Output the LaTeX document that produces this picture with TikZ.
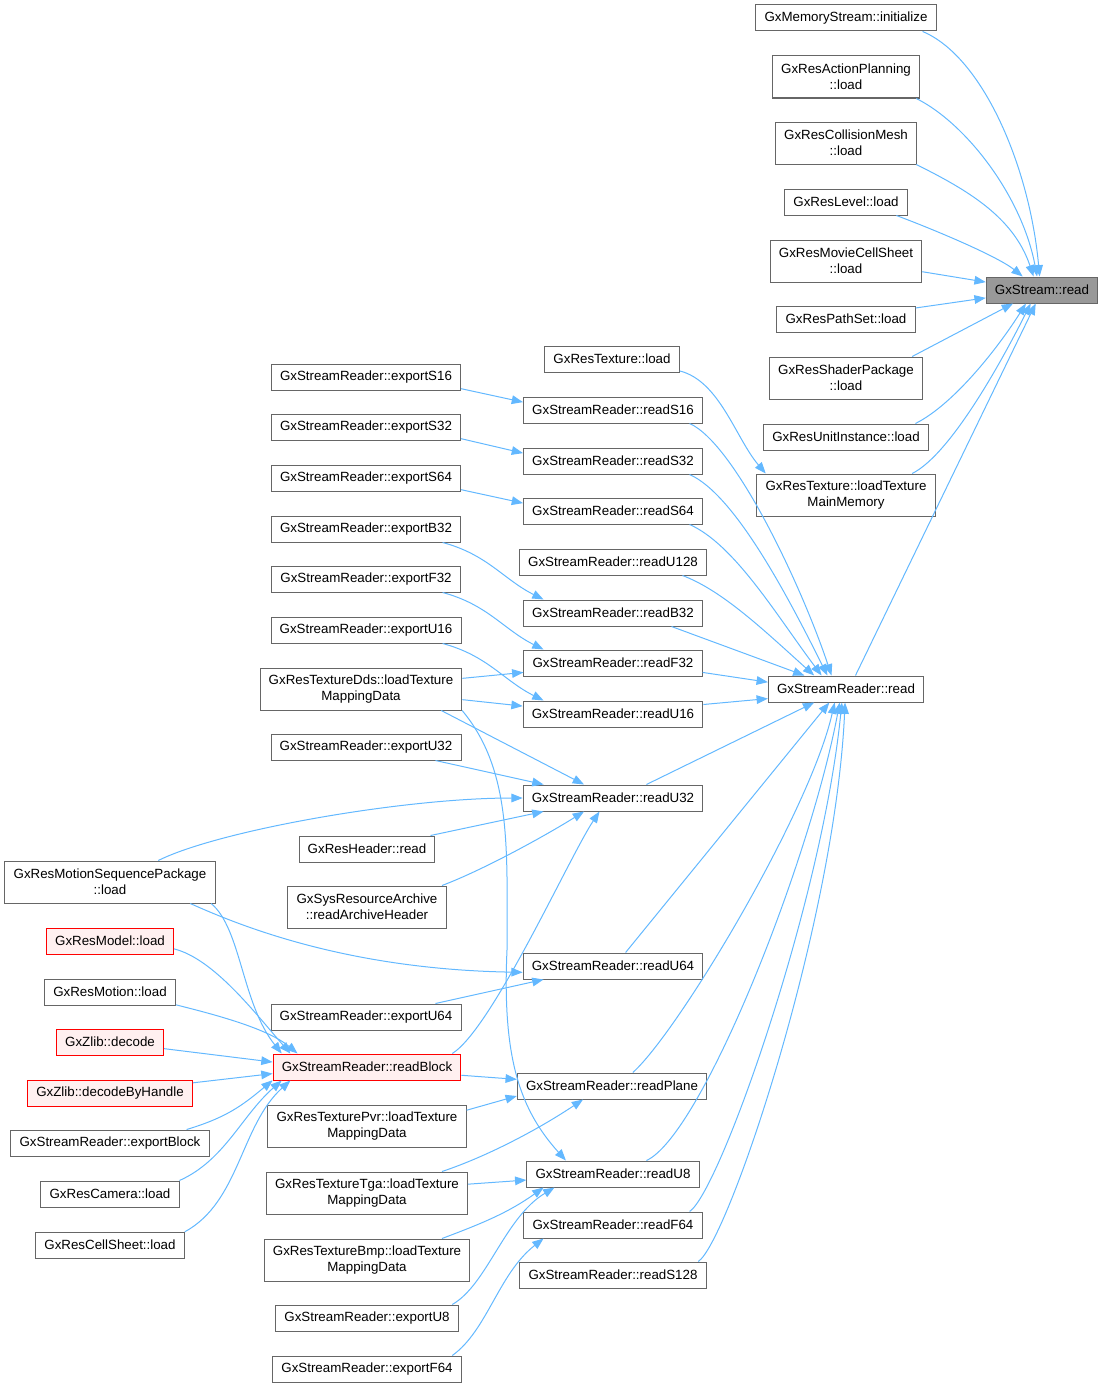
\documentclass[tikz,border=0pt]{standalone}
\usepackage{fontspec}
\setmainfont{Liberation Sans}
\usetikzlibrary{arrows.meta}
\definecolor{edgeblue}{HTML}{63B8FF}
\definecolor{boxgray}{HTML}{666666}
\definecolor{fillgray}{HTML}{999999}
\definecolor{fillred}{HTML}{FFF0F0}
\begin{document}
\begin{tikzpicture}[x=0.75pt,y=-0.75pt,
    fn/.style={draw=boxgray,fill=white,line width=0.75pt,inner xsep=6.5pt,inner ysep=2pt,
      minimum height=19.5pt,align=center,font=\fontsize{10}{12}\selectfont},
    fn2/.style={fn,minimum height=31.5pt},
    cur/.style={fn,fill=fillgray},
    trunc/.style={fn,draw=red,fill=fillred},
    call/.style={draw=edgeblue,line width=0.75pt,-{Triangle[length=8.5pt,width=6.5pt]}}]
  \useasboundingbox (0,0) rectangle (1104,1388);
  % right column
  \draw
    (1042,290) node[cur] (sread){GxStream::read}
    (846,18) node[fn] (mstream){GxMemoryStream::initialize}
    (846,77) node[fn2] (actplan){GxResActionPlanning\\::load}
    (846,143) node[fn2] (collmesh){GxResCollisionMesh\\::load}
    (846,202) node[fn] (level){GxResLevel::load}
    (846,261) node[fn2] (moviecell){GxResMovieCellSheet\\::load}
    (846,319) node[fn] (pathset){GxResPathSet::load}
    (846,378) node[fn2] (shader){GxResShaderPackage\\::load}
    (846,437) node[fn] (unitinst){GxResUnitInstance::load}
    (846,495) node[fn2] (texmain){GxResTexture::loadTexture\\MainMemory}
    (846,689) node[fn] (rread){GxStreamReader::read};
  % reader column
  \draw
    (612,359) node[fn] (texload){GxResTexture::load}
    (613,410) node[fn] (rS16){GxStreamReader::readS16}
    (613,461) node[fn] (rS32){GxStreamReader::readS32}
    (613,511) node[fn] (rS64){GxStreamReader::readS64}
    (613,562) node[fn] (rU128){GxStreamReader::readU128}
    (613,613) node[fn] (rB32){GxStreamReader::readB32}
    (613,663) node[fn] (rF32){GxStreamReader::readF32}
    (613,714) node[fn] (rU16){GxStreamReader::readU16}
    (613,798) node[fn] (rU32){GxStreamReader::readU32}
    (613,966) node[fn] (rU64){GxStreamReader::readU64}
    (612,1086) node[fn] (rPlane){GxStreamReader::readPlane}
    (613,1174) node[fn] (rU8){GxStreamReader::readU8}
    (613,1225) node[fn] (rF64){GxStreamReader::readF64}
    (613,1275) node[fn] (rS128){GxStreamReader::readS128};
  % export column
  \draw
    (366,377) node[fn] (exS16){GxStreamReader::exportS16}
    (366,427) node[fn] (exS32){GxStreamReader::exportS32}
    (366,478) node[fn] (exS64){GxStreamReader::exportS64}
    (366,529) node[fn] (exB32){GxStreamReader::exportB32}
    (366,579) node[fn] (exF32){GxStreamReader::exportF32}
    (366,630) node[fn] (exU16){GxStreamReader::exportU16}
    (361,689) node[fn2] (dds){GxResTextureDds::loadTexture\\MappingData}
    (366,747) node[fn] (exU32){GxStreamReader::exportU32}
    (367,849) node[fn] (resheader){GxResHeader::read}
    (367,907) node[fn2] (sysarch){GxSysResourceArchive\\::readArchiveHeader}
    (366,1017) node[fn] (exU64){GxStreamReader::exportU64}
    (367,1067) node[trunc] (rblock){GxStreamReader::readBlock}
    (367,1126) node[fn2] (pvr){GxResTexturePvr::loadTexture\\MappingData}
    (367,1193) node[fn2] (tga){GxResTextureTga::loadTexture\\MappingData}
    (367,1260) node[fn2] (bmp){GxResTextureBmp::loadTexture\\MappingData}
    (367,1318) node[fn] (exU8){GxStreamReader::exportU8}
    (367,1369) node[fn] (exF64){GxStreamReader::exportF64};
  % left column
  \draw
    (110,882) node[fn2] (motionseq){GxResMotionSequencePackage\\::load}
    (110,941) node[trunc] (resmodel){GxResModel::load}
    (110,992) node[fn] (resmotion){GxResMotion::load}
    (110,1042) node[trunc] (decode){GxZlib::decode}
    (110,1093) node[trunc] (decodeh){GxZlib::decodeByHandle}
    (110,1143) node[fn] (exblock){GxStreamReader::exportBlock}
    (110,1194) node[fn] (camera){GxResCamera::load}
    (110,1245) node[fn] (cellsheet){GxResCellSheet::load};
  \begin{scope}[call]
    \draw (mstream.-10) .. controls +(60,25) and +(-10,-110) .. (sread.100);
    \draw (actplan.-17) .. controls +(50,25) and +(-15,-80) .. (sread.110);
    \draw (collmesh.-17) .. controls +(50,25) and +(-20,-60) .. (sread.122);
    \draw (level.-15) .. controls +(40,15) and +(-25,-20) .. (sread.145);
    \draw (moviecell.-8) to (sread.172);
    \draw (pathset.9) to (sread.-172);
    \draw (shader.18) to (sread.-155);
    \draw (unitinst.11) .. controls +(40,-20) and +(-25,40) .. (sread.-140);
    \draw (texmain.18) .. controls +(40,-20) and +(-25,50) .. (sread.-130);
    \draw (rread.55) to (sread.-115);
    \draw (texload.-10) .. controls +(40,10) and +(-30,-35) .. (texmain.165);
    \draw (exS16.-7) to (rS16.175);
    \draw (exS32.-7) to (rS32.175);
    \draw (exS64.-7) to (rS64.175);
    \draw (exB32.-10) .. controls +(45,12) and +(-40,-20) .. (rB32.169);
    \draw (exF32.-10) .. controls +(45,12) and +(-40,-20) .. (rF32.169);
    \draw (exU16.-10) .. controls +(45,12) and +(-40,-20) .. (rU16.169);
    \draw (dds.6) to (rF32.-174);
    \draw (dds.-6) to (rU16.175);
    \draw (dds.-15) to (rU32.155);
    \draw (dds.-12) .. controls +(50,60) and +(0,-100) .. (507,950)
      .. controls +(-5,110) and +(-45,-50) .. (rU8.164);
    \draw (rS16.-10) .. controls +(45,20) and +(-30,-90) .. (rread.137);
    \draw (rS32.-10) .. controls +(45,20) and +(-40,-80) .. (rread.144);
    \draw (rS64.-10) .. controls +(45,20) and +(-45,-60) .. (rread.151);
    \draw (rU128.-11) .. controls +(40,15) and +(-50,-45) .. (rread.157);
    \draw (rB32.-13) to (rread.162);
    \draw (rF32.-6) to (rread.175);
    \draw (rU16.6) to (rread.-173);
    \draw (rU32.22) to (rread.-157);
    \draw (rU64.47) to (rread.-141);
    \draw (rPlane.33) .. controls +(45,-40) and +(-25,110) .. (rread.-130);
    \draw (rU8.22) .. controls +(55,-25) and +(-30,160) .. (rread.-115);
    \draw (rF64.10) .. controls +(30,-20) and +(-20,200) .. (rread.-107);
    \draw (rS128.9) .. controls +(30,-20) and +(-10,220) .. (rread.-94);
    \draw (exU32.-11) to (rU32.169);
    \draw (motionseq.24) .. controls +(60,-30) and +(-120,0) .. (rU32.180);
    \draw (resheader.12) to (rU32.-169);
    \draw (sysarch.16) .. controls +(40,-15) and +(-40,25) .. (rU32.-155);
    \draw (rblock.9) .. controls +(40,-25) and +(-30,45) .. (rU32.-135);
    \draw (motionseq.-15) .. controls +(45,20) and +(-180,-3) .. (rU64.-176);
    \draw (exU64.11) to (rU64.-169);
    \draw (motionseq.-12) .. controls +(30,25) and +(-40,-50) .. (rblock.171);
    \draw (resmodel.-7) .. controls +(40,10) and +(-35,-40) .. (rblock.170);
    \draw (resmotion.-11) .. controls +(40,10) and +(-30,-25) .. (rblock.169);
    \draw (decode.-7) to (rblock.177);
    \draw (decodeh.7) to (rblock.-176);
    \draw (exblock.10) .. controls +(40,-12) and +(-30,25) .. (rblock.-172);
    \draw (camera.11) .. controls +(45,-20) and +(-40,35) .. (rblock.-171);
    \draw (cellsheet.10) .. controls +(55,-30) and +(-50,45) .. (rblock.-170);
    \draw (rblock.-5) to (rPlane.176);
    \draw (pvr.9) to (rPlane.-174);
    \draw (tga.16) .. controls +(45,-15) and +(-45,30) .. (rPlane.-155);
    \draw (tga.5) to (rU8.-176);
    \draw (bmp.16) .. controls +(40,-15) and +(-35,25) .. (rU8.-169);
    \draw (exU8.9) .. controls +(35,-20) and +(-50,30) .. (rU8.-167);
    \draw (exF64.9) .. controls +(35,-25) and +(-45,35) .. (rF64.-169);
  \end{scope}
\end{tikzpicture}
\end{document}
